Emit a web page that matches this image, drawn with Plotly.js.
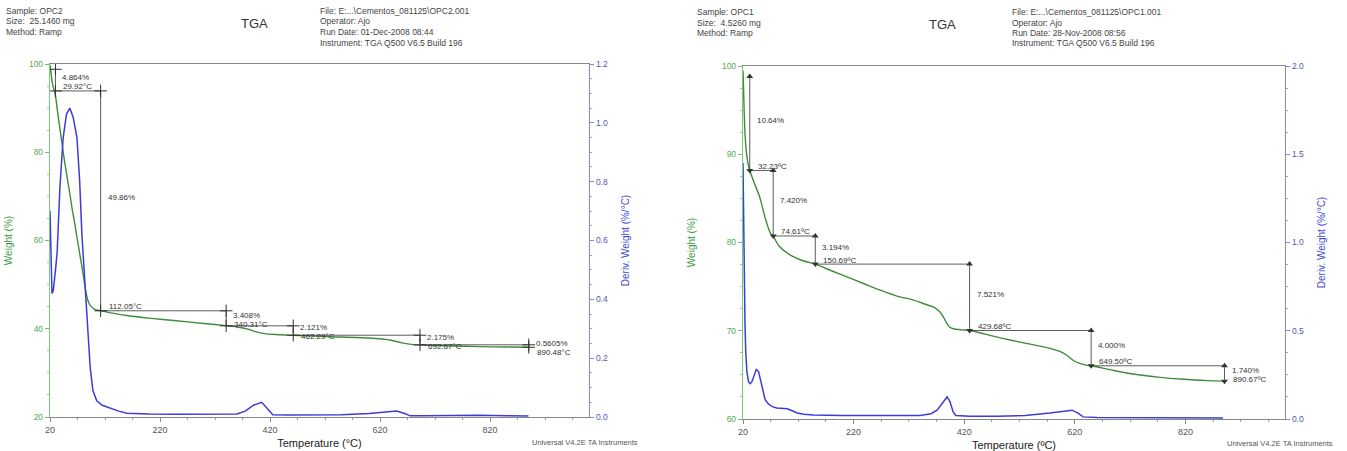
<!DOCTYPE html>
<html>
<head>
<meta charset="utf-8">
<script src="https://cdn.plot.ly/plotly-3.0.1.min.js"></script>
<style>html,body{margin:0;padding:0;background:#fff;}#chart{width:1347px;height:451px;}</style>
</head>
<body>
<div id="chart"></div>
<script>
// ---------------- OPC2 (left panel) ----------------
const opc2Temp   = [20, 22, 25, 28, 30, 35, 40, 45, 50, 55, 60, 65, 70, 75, 80, 84, 88, 92, 96, 100, 106, 112, 130, 160, 200, 250, 300, 340, 360, 380, 395, 410, 430, 462, 530, 600, 640, 660, 680, 692, 750, 800, 850, 890];
const opc2Weight = [99.8, 97.8, 95.2, 93.8, 92.8, 88.0, 83.6, 79.2, 75.2, 71.4, 67.4, 63.8, 60.0, 56.3, 52.6, 49.3, 46.8, 45.5, 44.9, 44.5, 44.2, 44.1, 43.6, 43.0, 42.4, 41.8, 41.2, 40.7, 40.4, 39.9, 39.3, 38.9, 38.7, 38.5, 38.2, 37.9, 37.4, 36.8, 36.4, 36.3, 36.1, 35.95, 35.85, 35.8];
const opc2DerivTemp  = [20, 21, 22, 23.6, 26, 28, 30, 33, 38, 44, 50, 56, 62, 69, 74, 78, 82, 86, 89, 93, 98, 105, 115, 129, 145, 160, 200, 250, 300, 360, 375, 390, 405, 415, 425, 450, 500, 550, 600, 630, 650, 665, 675, 700, 750, 800, 850, 890];
const opc2Deriv      = [0.70, 0.60, 0.50, 0.42, 0.43, 0.46, 0.50, 0.56, 0.78, 0.95, 1.03, 1.05, 1.02, 0.95, 0.80, 0.62, 0.50, 0.38, 0.28, 0.17, 0.09, 0.055, 0.04, 0.03, 0.02, 0.013, 0.01, 0.009, 0.009, 0.01, 0.02, 0.04, 0.05, 0.03, 0.008, 0.007, 0.007, 0.008, 0.012, 0.018, 0.02, 0.012, 0.004, 0.004, 0.005, 0.006, 0.004, 0.003];
const opc2StepTemp   = [29.92, 112.05, 340.31, 462.29, 692.67, 890.48];
const opc2StepWeight = [98.8, 93.9, 44.07, 40.66, 38.54, 36.36, 35.80];
const opc2LossLabels = ["4.864%", "49.86%", "3.408%", "2.121%", "2.175%", "0.5605%"];
const opc2TempLabels = ["29.92°C", "112.05°C", "340.31°C", "462.29°C", "692.67°C", "890.48°C"];
const opc2Header = ["Sample: OPC2", "Size:  25.1460 mg", "Method: Ramp"];
const opc2Info   = ["File: E:...\\Cementos_081125\\OPC2.001", "Operator: Ajo", "Run Date: 01-Dec-2008 08:44", "Instrument: TGA Q500 V6.5 Build 196"];

// ---------------- OPC1 (right panel) ----------------
const opc1Temp   = [20, 21, 22, 23.5, 26, 29, 32.23, 40, 50, 60, 65, 70, 74.61, 85, 105, 130, 150.69, 180, 208, 240, 268, 300, 327, 350, 364, 375, 382, 388, 394, 402, 415, 429.68, 485, 530, 575, 595, 606, 618, 629, 640, 649.5, 690, 725, 770, 816, 860, 890.67];
const opc1Weight = [99.5, 97.5, 95.0, 92.5, 90.3, 89.0, 88.16, 86.8, 85.2, 82.8, 81.8, 81.0, 80.74, 79.6, 78.6, 77.9, 77.55, 76.8, 76.1, 75.3, 74.6, 73.9, 73.5, 73.0, 72.7, 72.2, 71.6, 70.9, 70.4, 70.2, 70.1, 70.03, 69.2, 68.6, 68.0, 67.6, 67.2, 66.6, 66.3, 66.1, 66.03, 65.5, 65.1, 64.75, 64.5, 64.35, 64.29];
const opc1DerivTemp = [20, 20.5, 21.5, 22.5, 23.5, 25, 27, 30, 33, 36, 40, 44, 48, 52, 56, 60, 66, 73, 81, 90, 100, 110, 118, 130, 147, 200, 260, 300, 340, 360, 371, 380, 389, 394, 400, 405, 430, 480, 530, 575, 600, 615, 625, 635, 660, 700, 760, 820, 888];
const opc1Deriv     = [1.45, 1.30, 1.05, 0.80, 0.55, 0.38, 0.27, 0.21, 0.20, 0.21, 0.25, 0.28, 0.27, 0.21, 0.15, 0.11, 0.085, 0.07, 0.062, 0.06, 0.058, 0.045, 0.034, 0.027, 0.022, 0.02, 0.018, 0.02, 0.02, 0.03, 0.05, 0.09, 0.125, 0.10, 0.04, 0.02, 0.015, 0.015, 0.02, 0.034, 0.045, 0.05, 0.035, 0.012, 0.008, 0.008, 0.008, 0.007, 0.006];
const opc1StepTemp   = [32.23, 74.61, 150.69, 429.68, 649.50, 890.67];
const opc1StepWeight = [98.8, 88.16, 80.74, 77.55, 70.03, 66.03, 64.29];
const opc1LossLabels = ["10.64%", "7.420%", "3.194%", "7.521%", "4.000%", "1.740%"];
const opc1TempLabels = ["32.23ºC", "74.61ºC", "150.69ºC", "429.68ºC", "649.50ºC", "890.67ºC"];
const opc1Header = ["Sample: OPC1", "Size:  4.5260 mg", "Method: Ramp"];
const opc1Info   = ["File: E:...\\Cementos_081125\\OPC1.001", "Operator: Ajo", "Run Date: 28-Nov-2008 08:56", "Instrument: TGA Q500 V6.5 Build 196"];

const xTicks = [20, 220, 420, 620, 820];

// ---------------- helpers ----------------
const FONT = "Liberation Sans, Arial, sans-serif";
const GREEN = "#3f8c3a", BLUE = "#3c3cd8", INK = "#333333";
const W = 1347, H = 451;
const leftY = [34 / H, 387 / H], rightY = [32 / H, 385 / H];

function stepSegments(T, Wt) {
  const xs = [], ys = [];
  for (let i = 0; i < T.length; i++) {
    xs.push(T[i], T[i], null); ys.push(Wt[i], Wt[i + 1], null);
    if (i + 1 < T.length) { xs.push(T[i], T[i + 1], null); ys.push(Wt[i + 1], Wt[i + 1], null); }
  }
  return {xs, ys};
}

// loss label near the middle of the vertical, temperature label just above the lower end,
// pushed down if it would collide with the loss label (pixel scale from the axis domain and range)
function stepLabels(T, Wt, loss, temp, xref, yref, domain, range) {
  const pxPerUnit = (domain[1] - domain[0]) * H / (range[1] - range[0]);
  const out = [];
  for (let i = 0; i < T.length; i++) {
    const mid = (Wt[i] + Wt[i + 1]) / 2;
    const pctAboveMid = 3;
    const endBelowMid = (mid - Wt[i + 1]) * pxPerUnit;
    const tempBelowMid = Math.max(endBelowMid - 4, -pctAboveMid + 9);
    out.push({x: T[i], y: mid, xref, yref, text: loss[i], showarrow: false,
      xanchor: "left", yanchor: "middle", xshift: 5, yshift: pctAboveMid, font: {family: FONT, size: 8, color: INK}});
    out.push({x: T[i], y: mid, xref, yref, text: temp[i], showarrow: false,
      xanchor: "left", yanchor: "middle", xshift: 6, yshift: -tempBelowMid, font: {family: FONT, size: 8, color: INK}});
  }
  return out;
}

function headerAnn(lines, xpx, y0px, dy) {
  return lines.map((t, i) => ({x: xpx / W, y: 1 - (y0px + i * dy) / H, xref: "paper", yref: "paper", text: t,
    showarrow: false, xanchor: "left", yanchor: "middle", font: {family: FONT, size: 8.5, color: "#444"}}));
}

// ---------------- traces ----------------
const s2 = stepSegments(opc2StepTemp, opc2StepWeight);
const s1 = stepSegments(opc1StepTemp, opc1StepWeight);

const traces = [
  {x: opc2DerivTemp, y: opc2Deriv, xaxis: "x", yaxis: "y2", mode: "lines", line: {color: BLUE, width: 1.5}, hoverinfo: "skip"},
  {x: opc2Temp, y: opc2Weight, xaxis: "x", yaxis: "y", mode: "lines", line: {color: GREEN, width: 1.4, shape: "spline", smoothing: 0.6}, hoverinfo: "skip"},
  {x: s2.xs, y: s2.ys, xaxis: "x", yaxis: "y", mode: "lines", line: {color: INK, width: 0.8}, connectgaps: false, hoverinfo: "skip"},
  {x: opc2StepTemp.concat(opc2StepTemp), y: opc2StepWeight.slice(0, -1).concat(opc2StepWeight.slice(1)),
   xaxis: "x", yaxis: "y", mode: "markers", marker: {symbol: "cross-thin", size: 9, line: {color: INK, width: 1}}, hoverinfo: "skip"},

  {x: opc1DerivTemp, y: opc1Deriv, xaxis: "x2", yaxis: "y4", mode: "lines", line: {color: BLUE, width: 1.5}, hoverinfo: "skip"},
  {x: opc1Temp, y: opc1Weight, xaxis: "x2", yaxis: "y3", mode: "lines", line: {color: GREEN, width: 1.4, shape: "spline", smoothing: 0.6}, hoverinfo: "skip"},
  {x: s1.xs, y: s1.ys, xaxis: "x2", yaxis: "y3", mode: "lines", line: {color: INK, width: 0.8}, connectgaps: false, hoverinfo: "skip"},
  {x: opc1StepTemp, y: opc1StepWeight.slice(0, -1), xaxis: "x2", yaxis: "y3", mode: "markers",
   marker: {symbol: "triangle-up", size: 6, color: INK}, hoverinfo: "skip"},
  {x: opc1StepTemp, y: opc1StepWeight.slice(1), xaxis: "x2", yaxis: "y3", mode: "markers",
   marker: {symbol: "triangle-down", size: 6, color: INK}, hoverinfo: "skip"}
];

// ---------------- axes ----------------
function xAxis(domain, anchor, title) {
  return {domain, anchor, range: [20, 1000], tickvals: xTicks, ticks: "outside", ticklen: 4, tickcolor: "#888",
    minor: {dtick: 50, tick0: 20, ticks: "outside", ticklen: 2, tickcolor: "#999"},
    showline: true, linecolor: "#888", linewidth: 1, mirror: true, showgrid: false, zeroline: false,
    tickfont: {family: FONT, size: 9, color: "#555"},
    title: {text: title, standoff: 5, font: {family: FONT, size: 11, color: "#222"}}};
}
function yLeft(domain, anchor, range, dtick, minor, standoff) {
  return {domain, anchor, range, dtick, ticks: "outside", ticklen: 4, tickcolor: "#7b7",
    minor: {dtick: minor, ticks: "outside", ticklen: 2, tickcolor: "#9c9"},
    showline: true, linecolor: "#7c7", linewidth: 1.2, showgrid: false, zeroline: false,
    tickfont: {family: FONT, size: 8.5, color: "#5a5"},
    title: {text: "Weight (%)", standoff, font: {family: FONT, size: 10, color: "#3c9a3c"}}};
}
function yRight(overlay, anchor, range, dtick, minor) {
  return {overlaying: overlay, anchor, side: "right", range, dtick, tickformat: ".1f", ticks: "outside", ticklen: 4, tickcolor: "#88d",
    minor: {dtick: minor, ticks: "outside", ticklen: 2, tickcolor: "#99d"},
    showline: true, linecolor: "#8585e8", linewidth: 1.2, showgrid: false, zeroline: false,
    tickfont: {family: FONT, size: 8.5, color: "#5555bb"},
    title: {text: "Deriv. Weight (%/°C)", standoff: 15, font: {family: FONT, size: 10, color: "#4848d8"}}};
}

const annotations = [].concat(
  stepLabels(opc2StepTemp, opc2StepWeight, opc2LossLabels, opc2TempLabels, "x", "y", leftY, [20, 100]),
  stepLabels(opc1StepTemp, opc1StepWeight, opc1LossLabels, opc1TempLabels, "x2", "y3", rightY, [60, 100]),
  headerAnn(opc2Header, 4, 11, 10.5),
  headerAnn(opc2Info, 318, 11, 10.5),
  headerAnn(opc1Header, 695, 12, 10.5),
  headerAnn(opc1Info, 1010, 12, 10.5),
  [
    {x: 254 / W, y: 1 - 23 / H, xref: "paper", yref: "paper", text: "TGA", showarrow: false, xanchor: "center", yanchor: "middle", font: {family: FONT, size: 13, color: "#333"}},
    {x: 942 / W, y: 1 - 24 / H, xref: "paper", yref: "paper", text: "TGA", showarrow: false, xanchor: "center", yanchor: "middle", font: {family: FONT, size: 13, color: "#333"}},
    {x: 530 / W, y: 1 - 442 / H, xref: "paper", yref: "paper", text: "Universal V4.2E TA Instruments", showarrow: false, xanchor: "left", yanchor: "middle", font: {family: FONT, size: 7.5, color: "#555"}},
    {x: 1225 / W, y: 1 - 443 / H, xref: "paper", yref: "paper", text: "Universal V4.2E TA Instruments", showarrow: false, xanchor: "left", yanchor: "middle", font: {family: FONT, size: 7.5, color: "#555"}}
  ]
);

const layout = {
  width: W, height: H, margin: {l: 0, r: 0, t: 0, b: 0},
  paper_bgcolor: "#ffffff", plot_bgcolor: "#ffffff", showlegend: false,
  xaxis: xAxis([50 / W, 589 / W], "y", "Temperature (°C)"),
  yaxis: yLeft(leftY, "x", [20, 100], 20, 5, 14),
  yaxis2: yRight("y", "x", [0, 1.2], 0.2, 0.05),
  xaxis2: xAxis([743 / W, 1285 / W], "y3", "Temperature (ºC)"),
  yaxis3: yLeft(rightY, "x2", [60, 100], 10, 2.5, 24),
  yaxis4: yRight("y3", "x2", [0, 2.0], 0.5, 0.125),
  annotations
};

Plotly.newPlot("chart", traces, layout, {staticPlot: true, displayModeBar: false});
</script>
</body>
</html>
